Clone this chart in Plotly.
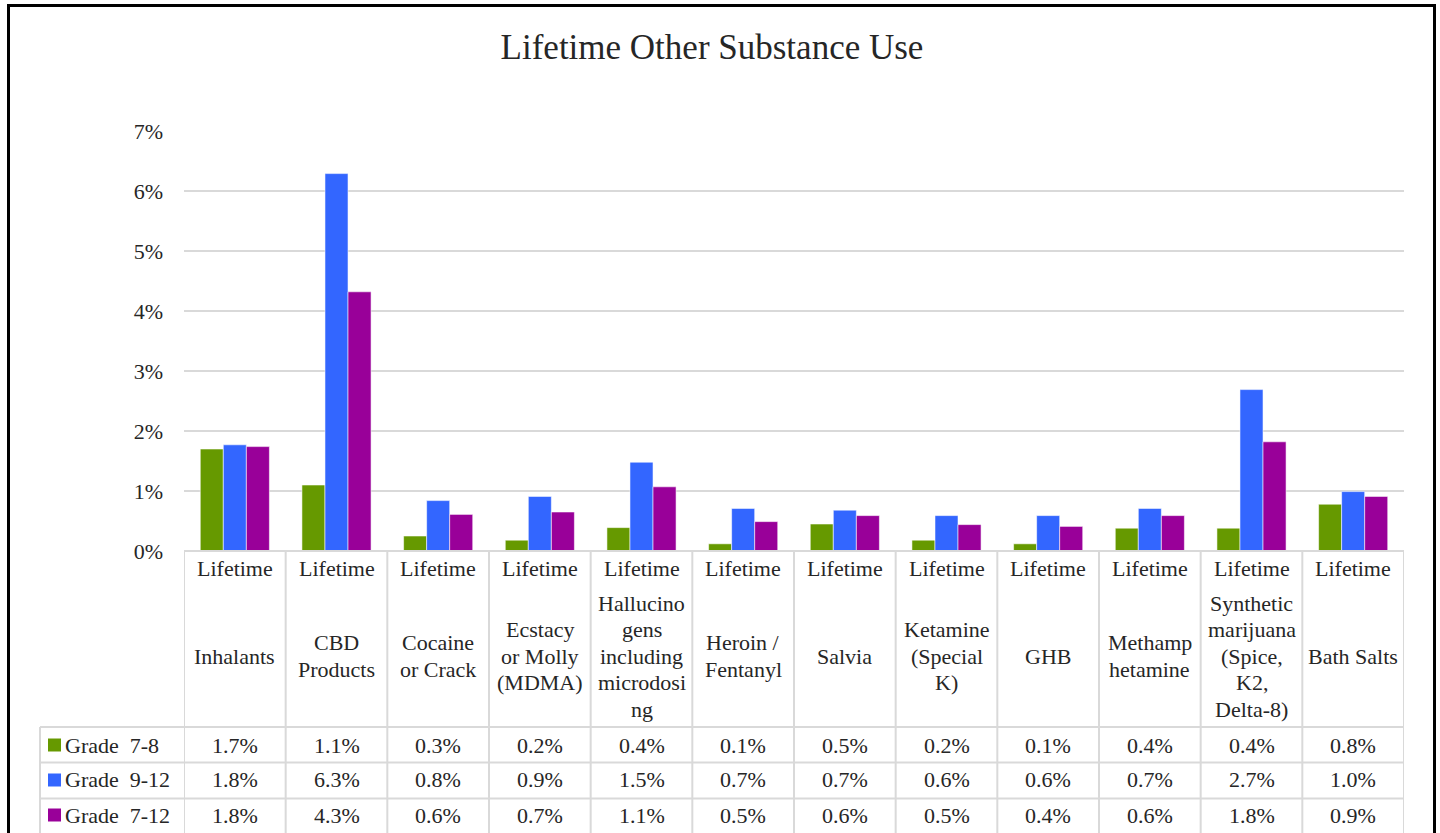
import plotly.graph_objects as go

# ---------------- data ----------------
categories = ["Inhalants", "CBD Products", "Cocaine or Crack", "Ecstacy or Molly (MDMA)",
              "Hallucinogens including microdosing", "Heroin / Fentanyl", "Salvia",
              "Ketamine (Special K)", "GHB", "Methamphetamine",
              "Synthetic marijuana (Spice, K2, Delta-8)", "Bath Salts"]
header_lines = [["Inhalants"], ["CBD", "Products"], ["Cocaine", "or Crack"],
                ["Ecstacy", "or Molly", "(MDMA)"],
                ["Hallucino", "gens", "including", "microdosi", "ng"],
                ["Heroin /", "Fentanyl"], ["Salvia"], ["Ketamine", "(Special", "K)"],
                ["GHB"], ["Methamp", "hetamine"],
                ["Synthetic", "marijuana", "(Spice,", "K2,", "Delta-8)"], ["Bath Salts"]]
group_label = "Lifetime"

series_names = ["Grade\u00a0\u00a07-8", "Grade\u00a0\u00a09-12", "Grade\u00a0\u00a07-12"]
series_colors = ["#669900", "#3366FF", "#990099"]

grade_7_8 = [1.70, 1.10, 0.25, 0.18, 0.39, 0.12, 0.45, 0.18, 0.12, 0.38, 0.38, 0.78]
grade_9_12 = [1.77, 6.29, 0.84, 0.91, 1.48, 0.71, 0.68, 0.59, 0.59, 0.71, 2.69, 0.99]
grade_7_12 = [1.74, 4.32, 0.61, 0.65, 1.07, 0.49, 0.59, 0.44, 0.41, 0.59, 1.82, 0.91]

table_7_8 = ["1.7%", "1.1%", "0.3%", "0.2%", "0.4%", "0.1%", "0.5%", "0.2%", "0.1%", "0.4%", "0.4%", "0.8%"]
table_9_12 = ["1.8%", "6.3%", "0.8%", "0.9%", "1.5%", "0.7%", "0.7%", "0.6%", "0.6%", "0.7%", "2.7%", "1.0%"]
table_7_12 = ["1.8%", "4.3%", "0.6%", "0.7%", "1.1%", "0.5%", "0.6%", "0.5%", "0.4%", "0.6%", "1.8%", "0.9%"]

series_values = [grade_7_8, grade_9_12, grade_7_12]
table_rows = [table_7_8, table_9_12, table_7_12]

title_text = "Lifetime Other Substance Use"

# ---------------- layout geometry (pixels) ----------------
W, H = 1440, 833
PL, PR, PT, PB = 184, 1404, 131, 551
FONT = "Liberation Serif, Times New Roman, serif"
TXT = "#262626"
GRID = "#d9d9d9"
FS = 22


def X(px):
    return (px - PL) / (PR - PL)


def Y(py):
    return (PB - py) / (PB - PT)


fig = go.Figure()
for name, vals, col in zip(series_names, series_values, series_colors):
    fig.add_trace(go.Bar(
        x=categories, y=[v / 100 for v in vals], name=name,
        marker=dict(color=col, line=dict(color="rgba(255,255,255,0.55)", width=1)),
    ))

shapes = []
annotations = []

# table: header vertical lines at category boundaries
n = len(categories)
for k in range(n + 1):
    shapes.append(dict(type="line", xref="x", yref="paper", x0=k - 0.5, x1=k - 0.5,
                       y0=Y(551), y1=Y(845), line=dict(color=GRID, width=2)))
# horizontal lines
shapes.append(dict(type="line", xref="paper", yref="paper", x0=X(PL), x1=X(PR),
                   y0=Y(551), y1=Y(551), line=dict(color=GRID, width=2)))
row_lines = [727, 762.5, 798.5, 834.5]
for ry in row_lines:
    shapes.append(dict(type="line", xref="paper", yref="paper", x0=X(40), x1=X(PR),
                       y0=Y(ry), y1=Y(ry), line=dict(color=GRID, width=2)))
shapes.append(dict(type="line", xref="paper", yref="paper", x0=X(40), x1=X(40),
                   y0=Y(727), y1=Y(845), line=dict(color=GRID, width=2)))

# header text
for i, (cat, lines) in enumerate(zip(categories, header_lines)):
    annotations.append(dict(x=cat, xref="x", y=Y(568), yref="paper", text=group_label,
                            showarrow=False, xanchor="center", yanchor="middle",
                            font=dict(family=FONT, size=FS, color=TXT)))
    nl = len(lines)
    for j, ln in enumerate(lines):
        cy = 656 + (j - (nl - 1) / 2) * 26.5
        annotations.append(dict(x=cat, xref="x", y=Y(cy), yref="paper", text=ln,
                                showarrow=False, xanchor="center", yanchor="middle",
                                font=dict(family=FONT, size=FS, color=TXT)))

# data rows
row_centers = [745, 780, 815]
for r, (name, col, row) in enumerate(zip(series_names, series_colors, table_rows)):
    cy = row_centers[r]
    shapes.append(dict(type="rect", xref="paper", yref="paper", x0=X(48), x1=X(61),
                       y0=Y(cy + 6.5), y1=Y(cy - 6.5), fillcolor=col, line=dict(width=0)))
    annotations.append(dict(x=X(63), xref="paper", y=Y(cy), yref="paper", text=name,
                            showarrow=False, xanchor="left", yanchor="middle",
                            font=dict(family=FONT, size=FS, color=TXT)))
    for cat, t in zip(categories, row):
        annotations.append(dict(x=cat, xref="x", y=Y(cy), yref="paper", text=t,
                                showarrow=False, xanchor="center", yanchor="middle",
                                font=dict(family=FONT, size=FS, color=TXT)))

# outer black frame (left, top, right)
shapes.append(dict(type="line", xref="paper", yref="paper", x0=X(8.5), x1=X(8.5),
                   y0=Y(4), y1=Y(845), line=dict(color="black", width=3)))
shapes.append(dict(type="line", xref="paper", yref="paper", x0=X(7), x1=X(1436),
                   y0=Y(5.5), y1=Y(5.5), line=dict(color="black", width=3)))
shapes.append(dict(type="line", xref="paper", yref="paper", x0=X(1434.5), x1=X(1434.5),
                   y0=Y(4), y1=Y(845), line=dict(color="black", width=3)))

fig.update_layout(
    width=W, height=H,
    margin=dict(l=PL, r=W - PR, t=PT, b=H - PB, autoexpand=False),
    paper_bgcolor="white", plot_bgcolor="white",
    barmode="group", bargap=0.32, bargroupgap=0,
    showlegend=False,
    title=dict(text=title_text, x=712 / W, xref="container", xanchor="center",
               y=1 - 47 / H, yref="container", yanchor="middle",
               font=dict(family=FONT, size=35, color=TXT)),
    xaxis=dict(showticklabels=False, showgrid=False, zeroline=False, showline=False,
               ticks="", range=[-0.5, n - 0.5]),
    yaxis=dict(range=[0, 0.07], dtick=0.01, tickformat=".0%", showgrid=True,
               gridcolor=GRID, gridwidth=2, zeroline=False, showline=False,
               ticks="", ticklabelstandoff=20,
               tickfont=dict(family=FONT, size=FS, color=TXT)),
    shapes=shapes, annotations=annotations,
)

fig.write_html("out.html", config={"displayModeBar": False},
               post_script="document.body.style.margin='0px';document.body.style.overflow='hidden';")
